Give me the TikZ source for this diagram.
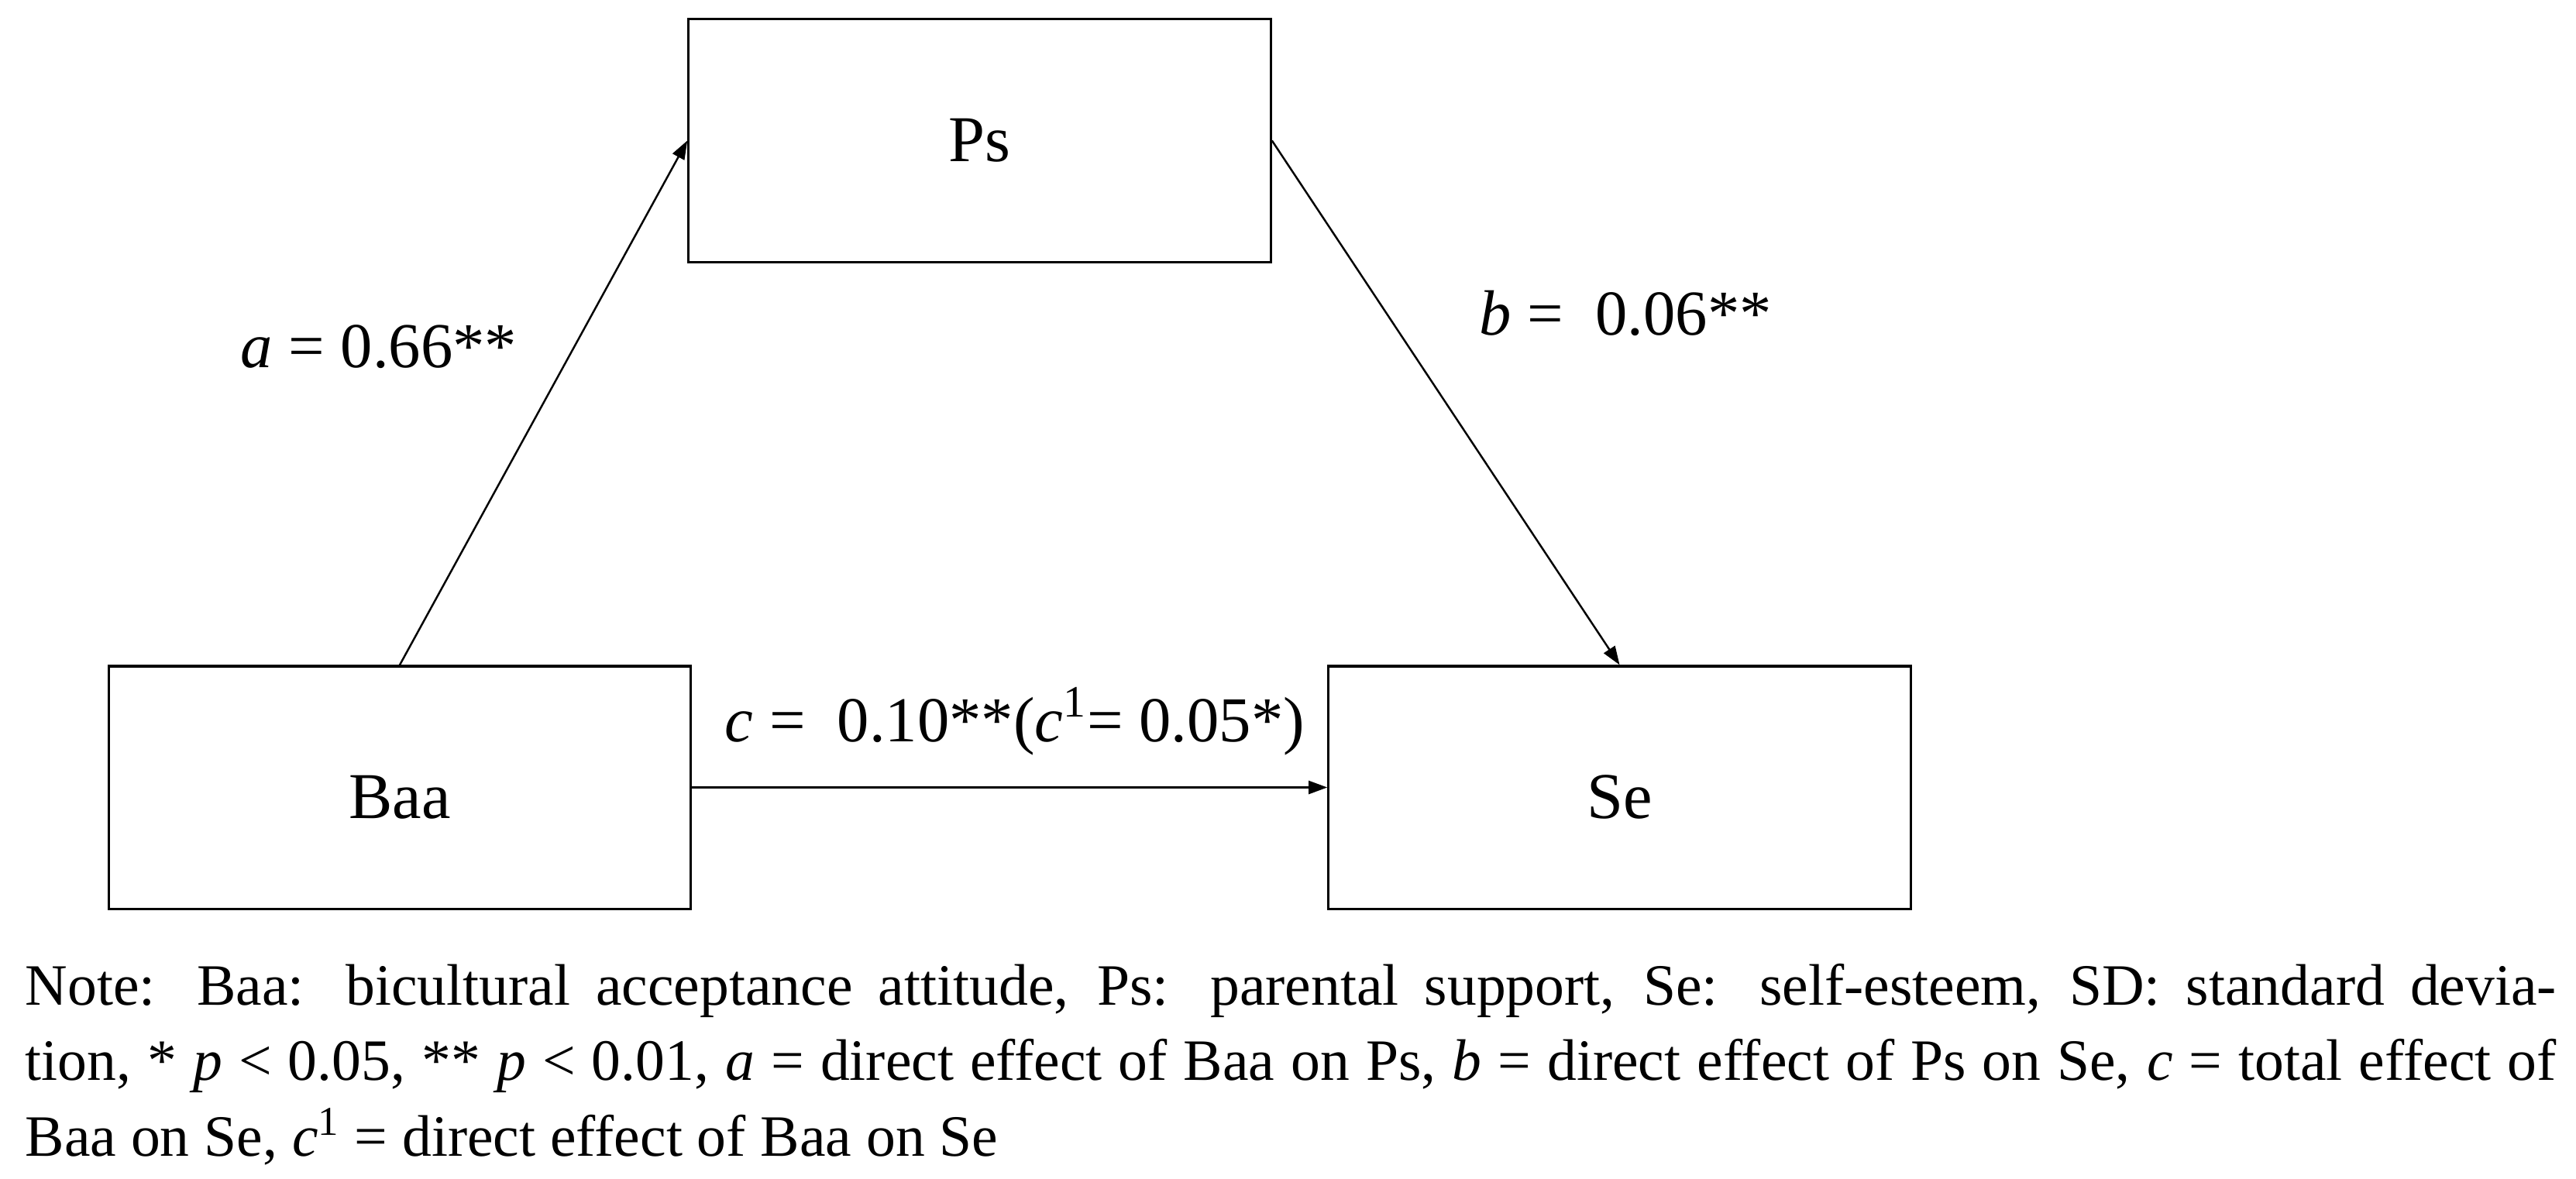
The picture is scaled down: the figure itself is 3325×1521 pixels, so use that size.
\documentclass[tikz,border=0pt]{standalone}
\usepackage{fontspec}
\setmainfont{Liberation Serif}
\usetikzlibrary{arrows.meta}
\begin{document}
\begin{tikzpicture}[x=0.01cm,y=-0.01cm,
  box/.style={draw, line width=0.9pt, minimum width=7.51cm, minimum height=3.13cm, inner sep=0pt, font=\fontsize{24}{29}\selectfont},
  lowtext/.style={text height=0.8cm, text depth=0pt},
  conn/.style={line width=0.7pt, -{Triangle[length=0.24cm,width=0.17cm]}},
  lbl/.style={anchor=base west, inner sep=0pt, font=\fontsize{23.5}{28}\selectfont},
  notestyle/.style={anchor=base west, inner sep=0pt, align=left, font=\fontsize{21.5}{27.6}\selectfont}]
\useasboundingbox (0,0) rectangle (3325,1521);
\node[box] (ps) at (1264.5,181.5) {Ps};
\node[box, lowtext] (baa) at (516,1016.5) {Baa};
\node[box, lowtext] (se) at (2090.5,1016.5) {Se};
\draw[conn] (baa.north) -- (ps.west);
\draw[conn] (ps.east) -- (se.north);
\draw[conn] (baa.east) -- (se.west);
\node[lbl] (la) at (310,474) {\textit{a} = 0.66**};
\node[lbl] (lb) at (1909,432) {\textit{b} =\ \ 0.06**};
\node[lbl] (lc) at (935,957) {\textit{c} =\ \ 0.10**(\textit{c}\textsuperscript{1}= 0.05*)};
\node[notestyle] (note) at (32,1492) {\makebox[32.65cm][s]{Note: Baa: bicultural acceptance attitude, Ps: parental support, Se: self-esteem, SD: standard devia-}\\
\makebox[32.65cm][s]{tion, * \textit{p} < 0.05, ** \textit{p} < 0.01, \textit{a} = direct effect of Baa on Ps, \textit{b} = direct effect of Ps on Se, \textit{c} = total effect of}\\
Baa on Se, \textit{c}\textsuperscript{1} = direct effect of Baa on Se};
\end{tikzpicture}
\end{document}
